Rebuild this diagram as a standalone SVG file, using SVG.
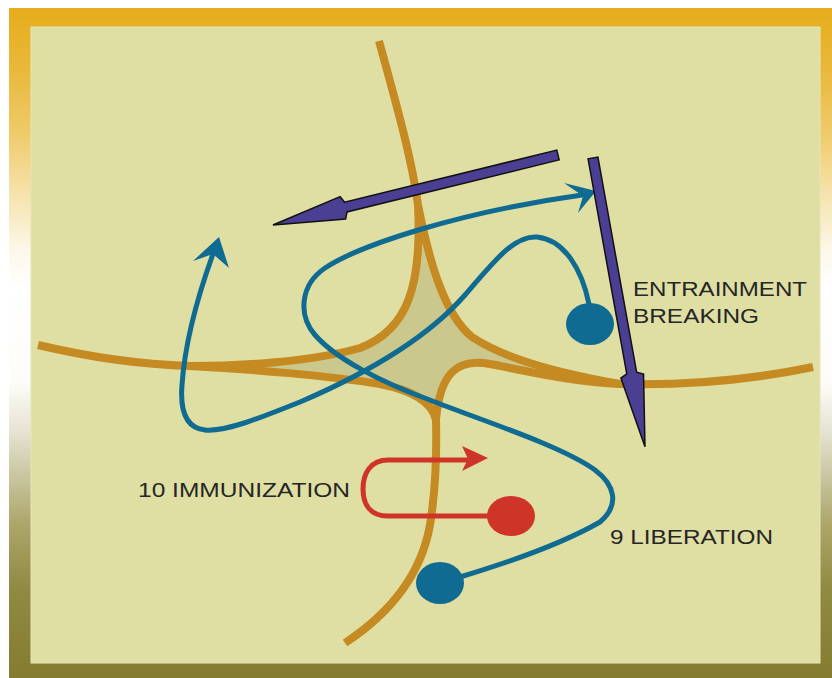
<svg xmlns="http://www.w3.org/2000/svg" width="832" height="678" viewBox="0 0 832 678">
  <defs>
    <linearGradient id="frameGrad" x1="0" y1="8" x2="0" y2="678" gradientUnits="userSpaceOnUse">
      <stop offset="0" stop-color="#e5ad1d"/>
      <stop offset="0.09" stop-color="#e9b83a"/>
      <stop offset="0.19" stop-color="#efcb6c"/>
      <stop offset="0.28" stop-color="#f6e3ae"/>
      <stop offset="0.36" stop-color="#fcf7e8"/>
      <stop offset="0.42" stop-color="#ffffff"/>
      <stop offset="0.56" stop-color="#fdfcf8"/>
      <stop offset="0.63" stop-color="#e6e4d3"/>
      <stop offset="0.70" stop-color="#c9c5a0"/>
      <stop offset="0.77" stop-color="#aca66a"/>
      <stop offset="0.87" stop-color="#908942"/>
      <stop offset="1" stop-color="#857c31"/>
    </linearGradient>
  </defs>
  <style>
    .road { fill: none; stroke: #c68a22; stroke-width: 8; stroke-linecap: butt; }
    .basin { fill: #cbc88e; stroke: none; }
    .traj { fill: none; stroke: #0f6b91; stroke-width: 5; stroke-linecap: round; }
    .trajHead { fill: #0f6b91; }
    .state { fill: #0f6b91; }
    .imm { fill: none; stroke: #cf3428; stroke-width: 5; stroke-linecap: round; }
    .immHead { fill: #cf3428; }
    .immState { fill: #cf3428; }
    .big { fill: #4b3f93; stroke: #111111; stroke-width: 1.5; stroke-linejoin: miter; }
    .lbl { font-family: "Liberation Sans", Arial, sans-serif; font-size: 21px; fill: #262626; }
  </style>

  <!-- frame -->
  <rect x="9" y="8" width="823" height="670" fill="url(#frameGrad)"/>
  <rect x="31" y="27" width="789" height="636" fill="#dfdfa3" stroke="#e7e5b6" stroke-width="1"/>

  <!-- central basin between the four separatrix branches -->
  <path class="basin" d="M 418 205 C 430 265, 445 315, 472 337 C 510 362, 570 375, 620 384 C 580 383, 530 372, 490 364 C 458 358, 440 372, 436 420 C 432 400, 410 390, 380 384 C 330 376, 250 369, 190 366 C 240 366, 310 362, 360 348 C 408 330, 422 285, 418 205 Z"/>

  <g id="separatrices">
    <path class="road" d="M 379 41 C 398 110, 412 160, 418 205"/>
    <path class="road" d="M 418 205 C 422 285, 408 330, 360 348 C 310 362, 240 366, 190 366"/>
    <path class="road" d="M 418 205 C 430 265, 445 315, 472 337 C 510 362, 570 375, 620 384"/>
    <path class="road" d="M 620 384 C 580 383, 530 372, 490 364 C 458 358, 440 372, 436 420"/>
    <path class="road" d="M 436 420 C 432 400, 410 390, 380 384 C 330 376, 250 369, 190 366"/>
    <path class="road" d="M 190 366 C 130 364, 80 355, 38 345"/>
    <path class="road" d="M 620 384 C 700 386, 760 378, 813 367"/>
    <path class="road" d="M 436 420 C 437 460, 434 500, 430 525 C 422 570, 395 610, 345 643"/>
  </g>

  <g id="connectors">
    <!-- trajectory from the entrainment state -->
    <path class="traj" d="M 589 304 C 582 270, 565 240, 537 237 C 515 235, 495 260, 465 295 C 430 335, 370 372, 300 402 C 260 418, 225 432, 205 430 C 185 428, 180 410, 182 385 C 185 340, 200 290, 213 254"/>
    <polygon class="trajHead" points="219,237 229,268 213,254 193,261"/>

    <!-- trajectory from the liberation state -->
    <path class="traj" d="M 460 577 C 500 565, 560 545, 600 522 C 620 505, 615 485, 595 470 C 560 445, 480 420, 430 400 C 380 382, 335 358, 315 335 C 298 315, 300 285, 325 268 C 360 245, 460 212, 582 195"/>
    <polygon class="trajHead" points="596,191 578,213 583,196 564,183"/>

    <!-- immunization path -->
    <path class="imm" d="M 505 516 L 388 516 C 370 516, 363 504, 363 489 C 363 474, 370 460, 388 460 L 470 460"/>
    <polygon class="immHead" points="488,458 462,471 468,459 462,446"/>

    <!-- large directional arrows -->
    <polygon class="big" transform="translate(558,155) rotate(166.2)" points="0,-5 218.5,-5 221.5,-11.5 293.5,0 221.5,11.5 218.5,5 0,5"/>
    <polygon class="big" transform="translate(593,158) rotate(79.8)" points="0,-5 218.5,-5 221.5,-11.5 293.5,0 221.5,11.5 218.5,5 0,5"/>
  </g>

  <g id="entrainment">
    <ellipse class="state" cx="590" cy="324" rx="24" ry="21"/>
    <text class="lbl" x="633" y="296" textLength="174" lengthAdjust="spacingAndGlyphs">ENTRAINMENT</text>
    <text class="lbl" x="633" y="323" textLength="126" lengthAdjust="spacingAndGlyphs">BREAKING</text>
  </g>

  <g id="liberation">
    <ellipse class="state" cx="440" cy="583" rx="24" ry="21"/>
    <text class="lbl" x="610" y="544" textLength="163" lengthAdjust="spacingAndGlyphs">9 LIBERATION</text>
  </g>

  <g id="immunization">
    <ellipse class="immState" cx="511" cy="516" rx="24" ry="20"/>
    <text class="lbl" x="138" y="497" textLength="212" lengthAdjust="spacingAndGlyphs">10 IMMUNIZATION</text>
  </g>
</svg>
